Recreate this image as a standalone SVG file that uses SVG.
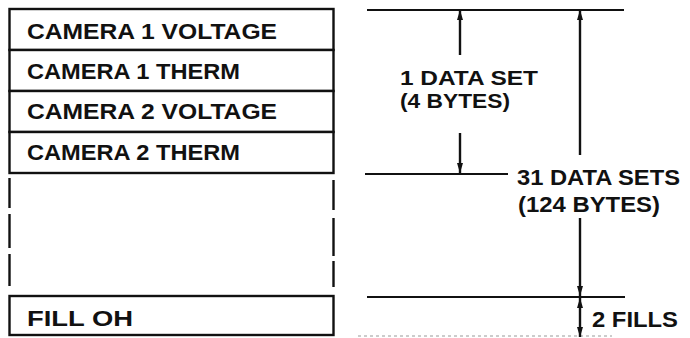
<svg xmlns="http://www.w3.org/2000/svg" width="690" height="338" viewBox="0 0 690 338">
<style>
.box{fill:#fff;stroke:#111;stroke-width:2.4}
.t{font-family:"Liberation Sans",Arial,sans-serif;font-weight:bold;font-size:22px;fill:#111}
.s{font-size:19.5px}
.ln{stroke:#111;stroke-width:2;fill:none}
.dim{stroke:#111;stroke-width:2.4;fill:none}
.side{stroke:#111;stroke-width:2.4}
</style>
<defs>
<marker id="ah" viewBox="0 0 10 6" refX="10" refY="3" markerWidth="10" markerHeight="6" markerUnits="userSpaceOnUse" orient="auto">
<path d="M0,0 L10,3 L0,6 Z" fill="#111"/>
</marker>
</defs>
<rect width="690" height="338" fill="#fff"/>
<g id="row1"><rect class="box" x="9.5" y="9" width="324" height="41"/><text class="t" x="27" y="39" textLength="250" lengthAdjust="spacingAndGlyphs">CAMERA 1 VOLTAGE</text></g>
<g id="row2"><rect class="box" x="9.5" y="50" width="324" height="41"/><text class="t" x="27" y="79" textLength="213" lengthAdjust="spacingAndGlyphs">CAMERA 1 THERM</text></g>
<g id="row3"><rect class="box" x="9.5" y="91" width="324" height="41"/><text class="t" x="27" y="119" textLength="250" lengthAdjust="spacingAndGlyphs">CAMERA 2 VOLTAGE</text></g>
<g id="row4"><rect class="box" x="9.5" y="132" width="324" height="41"/><text class="t" x="27" y="160" textLength="213" lengthAdjust="spacingAndGlyphs">CAMERA 2 THERM</text></g>
<g id="gap">
<line class="side" x1="9.5" y1="178" x2="9.5" y2="208"/>
<line class="side" x1="9.5" y1="214" x2="9.5" y2="248"/>
<line class="side" x1="9.5" y1="254" x2="9.5" y2="286"/>
<line class="side" x1="333.5" y1="180" x2="333.5" y2="210"/>
<line class="side" x1="333.5" y1="218" x2="333.5" y2="256"/>
<line class="side" x1="333.5" y1="261" x2="333.5" y2="287"/>
</g>
<g id="fill"><rect class="box" x="9.5" y="296" width="324" height="39"/><text class="t" x="27" y="326" textLength="106" lengthAdjust="spacingAndGlyphs">FILL OH</text></g>
<g id="connectors">
<line class="ln" x1="367" y1="10" x2="624" y2="10"/>
<line class="ln" x1="365" y1="174" x2="508" y2="174"/>
<line class="ln" x1="367" y1="297" x2="625" y2="297"/>
<line x1="358" y1="336" x2="612" y2="336" stroke="#999" stroke-width="1" stroke-dasharray="3 3"/>
<line class="dim" x1="460" y1="55" x2="460" y2="10" marker-end="url(#ah)"/>
<line class="dim" x1="460" y1="133" x2="460" y2="173" marker-end="url(#ah)"/>
<line class="dim" x1="580" y1="155" x2="580" y2="10" marker-end="url(#ah)"/>
<line class="dim" x1="580" y1="218" x2="580" y2="296" marker-end="url(#ah)"/>
<line class="dim" x1="580" y1="316" x2="580" y2="298" marker-end="url(#ah)"/>
<line class="dim" x1="580" y1="316" x2="580" y2="337" marker-end="url(#ah)"/>
</g>
<g id="labels">
<text class="t s" x="400" y="85" textLength="138" lengthAdjust="spacingAndGlyphs">1 DATA SET</text>
<text class="t s" x="400" y="108" textLength="110" lengthAdjust="spacingAndGlyphs">(4 BYTES)</text>
<text class="t" x="517" y="185" textLength="163" lengthAdjust="spacingAndGlyphs">31 DATA SETS</text>
<text class="t" x="518" y="212" textLength="142" lengthAdjust="spacingAndGlyphs">(124 BYTES)</text>
<text class="t" x="592" y="327" textLength="86" lengthAdjust="spacingAndGlyphs">2 FILLS</text>
</g>
</svg>
